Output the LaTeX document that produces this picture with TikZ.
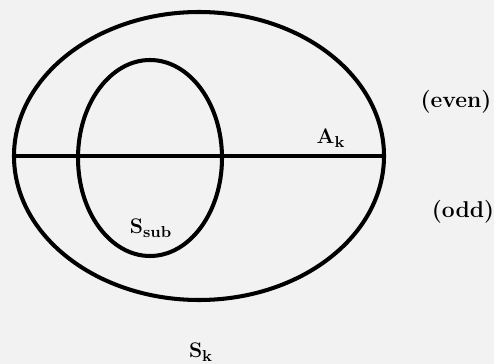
\documentclass[tikz,border=0pt]{standalone}
\usepackage{amsmath,amssymb,bm}
\usepackage{xcolor}
\usepackage{tikz}
\usetikzlibrary{positioning, shapes.geometric}
\tikzset{
  setoval/.style={
    ellipse,
    draw,
    line width=2.3pt,
    inner sep=0pt,
    outer sep=0pt
  },
  splitline/.style={
    line width=2.3pt
  },
  setlabel/.style={
    font=\bfseries\fontsize{13}{15}\selectfont,
    inner sep=1pt
  }
}

\begin{document}
\begin{tikzpicture}
  \useasboundingbox[fill=black!5] (0,0) rectangle (9.88,-7.28);
  \node[setoval, minimum width=7.4cm, minimum height=5.76cm] (outer) at (3.98,-3.12) {};
  \node[setoval, minimum width=2.88cm, minimum height=3.92cm] (inner) at (3.00,-3.16) {};
  \draw[splitline] (outer.west) -- (outer.east);
  \node[setlabel] (ak) at (6.62,-2.76) {$\mathbf{A}_{\mathbf{k}}$};
  \node[setlabel] (ssub) at (3.02,-4.56) {$\mathbf{S}_{\mathbf{sub}}$};
  \node[setlabel] (sk) at (4.02,-7.04) {$\mathbf{S}_{\mathbf{k}}$};
  \node[setlabel] (even) at (9.12,-2.04) {(even)};
  \node[setlabel] (odd) at (9.26,-4.24) {(odd)};
\end{tikzpicture}
\end{document}
